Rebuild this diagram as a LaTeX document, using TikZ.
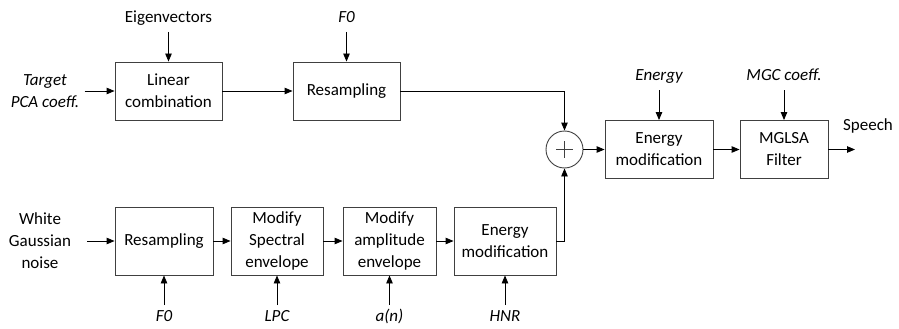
\documentclass[tikz,border=0pt]{standalone}
\usepackage{fontspec}
\setmainfont{Carlito}
\usetikzlibrary{arrows.meta, positioning, calc}

\begin{document}
\begin{tikzpicture}[
        x=1pt, y=-1pt,
        font=\fontsize{17}{22}\selectfont,
        line width=0.9pt,
        blk/.style={draw=black!75, align=center, inner sep=2pt, minimum height=58pt},
        blkb/.style={blk, minimum height=68pt},
        sig/.style={inner sep=5pt, text height=11pt, text depth=4pt},
        sigit/.style={sig, font=\fontsize{17}{22}\selectfont\itshape},
        side/.style={align=center, inner sep=5pt},
        sumnode/.style={draw=black!75, circle, minimum size=37pt, inner sep=0pt},
        >={Triangle[length=8pt, width=6.5pt]}
    ]
    \useasboundingbox (0,0) rectangle (899,329);

    % ---- harmonic path ----
    \node[blk, minimum width=107pt] (lin) at (168.5,91) {Linear\\combination};
    \node[blk, minimum width=107pt] (rsa) at (346.5,91) {Resampling};
    \node[side, font=\fontsize{17}{22}\selectfont\itshape] (tgt) at (45,91) {Target\\PCA coeff.};
    \node[sig, anchor=south] (eig) at (168.5,32) {Eigenvectors};
    \node[sigit, anchor=south] (f0a) at (346.5,32) {F0};

    % ---- sum and output stage ----
    \node[sumnode] (sum) at (564.5,149.5) {};
    \draw[black!75] (sum.center) ++(-8.5,0) -- ++(17,0);
    \draw[black!75] (sum.center) ++(0,-8.5) -- ++(0,17);
    \node[blk, minimum width=108pt] (ent) at (659,149.5) {Energy\\modification};
    \node[blk, minimum width=88pt] (mgl) at (784,149.5) {MGLSA\\Filter};
    \node[sigit, anchor=south] (ene) at (659,90) {Energy};
    \node[sigit, anchor=south] (mgc) at (784,90) {MGC coeff.};
    \coordinate (out) at (855,149.5);
    \node[sig] (spc) at (868,127) {Speech};

    % ---- noise path ----
    \node[blkb, minimum width=98pt] (rsb) at (164,241) {Resampling};
    \node[blkb, minimum width=92pt] (mse) at (277,241) {Modify\\Spectral\\envelope};
    \node[blkb, minimum width=93pt] (mae) at (389.5,241) {Modify\\amplitude\\envelope};
    \node[blkb, minimum width=102pt] (enb) at (505,241) {Energy\\modification};
    \node[side] (wgn) at (40,241) {White\\Gaussian\\noise};
    \node[sigit, anchor=north] (f0b) at (164,305) {F0};
    \node[sigit, anchor=north] (lpc) at (277,305) {LPC};
    \node[sigit, anchor=north] (amp) at (389.5,305) {a(n)};
    \node[sigit, anchor=north] (hnr) at (505,305) {HNR};

    % ---- connectors ----
    \draw[->] (tgt) -- (lin);
    \draw[->] (eig) -- (lin);
    \draw[->] (f0a) -- (rsa);
    \draw[->] (lin) -- (rsa);
    \draw[->] (rsa) -| (sum);
    \draw[->, shorten <=11pt] (wgn) -- (rsb);
    \draw[->] (rsb) -- (mse);
    \draw[->] (mse) -- (mae);
    \draw[->] (mae) -- (enb);
    \draw[->] (f0b) -- (rsb);
    \draw[->] (lpc) -- (mse);
    \draw[->] (amp) -- (mae);
    \draw[->] (hnr) -- (enb);
    \draw[->] (enb) -| (sum);
    \draw[->] (sum) -- (ent);
    \draw[->] (ene) -- (ent);
    \draw[->] (ent) -- (mgl);
    \draw[->] (mgc) -- (mgl);
    \draw[->] (mgl) -- (out);

\end{tikzpicture}
\end{document}
